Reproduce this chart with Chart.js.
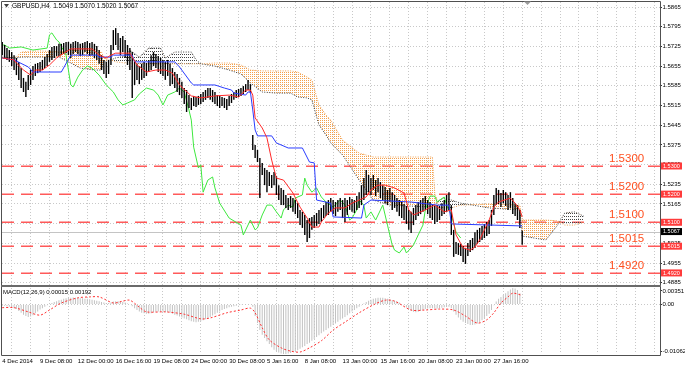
<!DOCTYPE html>
<html><head><meta charset="utf-8">
<script src="https://cdn.jsdelivr.net/npm/chart.js@4.4.1/dist/chart.umd.min.js"></script>
<style>
html,body{margin:0;padding:0;background:#fff;}
#wrap{position:relative;width:685px;height:368px;overflow:hidden;background:#fff;}
#c1{position:absolute;left:0;top:0;}
#c2{position:absolute;left:0;top:287px;}
</style></head><body>
<div id="wrap"><canvas id="c1" width="685" height="287"></canvas><canvas id="c2" width="685" height="81"></canvas></div>
<script>
// ---------------- DATA ----------------
const symbol = 'GBPUSD';
const timeframe = 'H4';
const lastOHLC = [1.5049, 1.5070, 1.5020, 1.5067];
const macdParams = '12,26,9';
const macdReadout = ['0.00015', '0.00192'];
const priceTicks = [1.5865,1.5795,1.5725,1.5655,1.5585,1.5515,1.5445,1.5375,1.5305,1.5235,1.5165,1.5095,1.5025,1.4955,1.4885];
const levels = [1.5300, 1.5200, 1.5100, 1.5015, 1.4920];
const dateLabels = ['4 Dec 2014','9 Dec 08:00','12 Dec 00:00','16 Dec 16:00','19 Dec 08:00','24 Dec 00:00','30 Dec 08:00','5 Jan 16:00','8 Jan 08:00','13 Jan 00:00','15 Jan 16:00','20 Jan 08:00','23 Jan 00:00','27 Jan 16:00'];
const macdTickValues = [0.00351, 0, -0.01062];
const macdTickLabels = ['0.00351', '0.00', '-0.01062'];

const barHigh = [
1.5741,1.5730,1.5719,1.5712,1.5705,1.5694,1.5684,1.5670,1.5648,1.5613,
1.5599,1.5623,1.5641,1.5655,1.5663,1.5666,1.5670,1.5677,1.5687,1.5698,
1.5712,1.5723,1.5726,1.5726,1.5734,1.5734,1.5737,1.5741,1.5741,1.5734,
1.5741,1.5744,1.5741,1.5734,1.5737,1.5741,1.5744,1.5737,1.5741,1.5734,
1.5726,1.5712,1.5694,1.5677,1.5670,1.5677,1.5730,1.5783,1.5790,1.5773,
1.5755,1.5762,1.5748,1.5730,1.5719,1.5705,1.5677,1.5663,1.5655,1.5663,
1.5670,1.5666,1.5677,1.5694,1.5705,1.5698,1.5691,1.5684,1.5677,1.5670,
1.5677,1.5663,1.5648,1.5634,1.5627,1.5613,1.5599,1.5577,1.5570,1.5552,
1.5542,1.5549,1.5545,1.5549,1.5556,1.5563,1.5570,1.5577,1.5577,1.5570,
1.5563,1.5552,1.5549,1.5545,1.5542,1.5538,1.5549,1.5556,1.5563,1.5570,
1.5574,1.5577,1.5584,1.5591,1.5606,1.5591,1.5410,1.5375,1.5357,1.5328,
1.5311,1.5293,1.5286,1.5279,1.5268,1.5279,1.5264,1.5232,1.5222,1.5215,
1.5197,1.5186,1.5193,1.5186,1.5179,1.5168,1.5144,1.5137,1.5126,1.5108,
1.5115,1.5119,1.5126,1.5133,1.5144,1.5151,1.5161,1.5172,1.5179,1.5186,
1.5179,1.5172,1.5179,1.5186,1.5179,1.5186,1.5179,1.5190,1.5183,1.5179,
1.5193,1.5207,1.5232,1.5257,1.5286,1.5268,1.5257,1.5268,1.5250,1.5257,
1.5243,1.5232,1.5225,1.5215,1.5222,1.5207,1.5197,1.5186,1.5179,1.5172,
1.5165,1.5158,1.5144,1.5137,1.5151,1.5161,1.5172,1.5179,1.5186,1.5193,
1.5179,1.5172,1.5165,1.5158,1.5161,1.5158,1.5168,1.5179,1.5197,1.5207,
1.5161,1.5073,1.5030,1.5026,1.5023,1.5016,1.5009,1.5026,1.5037,1.5044,
1.5065,1.5073,1.5080,1.5087,1.5094,1.5101,1.5108,1.5144,1.5197,1.5222,
1.5215,1.5204,1.5215,1.5207,1.5197,1.5207,1.5186,1.5168,1.5161,1.5144,
1.5070];
const barLow = [
1.5694,1.5684,1.5677,1.5670,1.5655,1.5641,1.5623,1.5606,1.5577,1.5563,
1.5545,1.5570,1.5588,1.5606,1.5620,1.5630,1.5634,1.5641,1.5648,1.5655,
1.5670,1.5677,1.5684,1.5691,1.5691,1.5694,1.5698,1.5701,1.5694,1.5684,
1.5698,1.5705,1.5698,1.5691,1.5694,1.5705,1.5698,1.5691,1.5694,1.5684,
1.5677,1.5663,1.5641,1.5627,1.5613,1.5627,1.5659,1.5712,1.5730,1.5712,
1.5694,1.5705,1.5684,1.5659,1.5641,1.5542,1.5588,1.5606,1.5591,1.5606,
1.5613,1.5620,1.5634,1.5641,1.5655,1.5648,1.5634,1.5627,1.5620,1.5606,
1.5620,1.5584,1.5591,1.5577,1.5563,1.5552,1.5542,1.5520,1.5492,1.5506,
1.5499,1.5513,1.5510,1.5517,1.5520,1.5527,1.5535,1.5542,1.5535,1.5527,
1.5520,1.5513,1.5506,1.5513,1.5506,1.5499,1.5513,1.5524,1.5535,1.5542,
1.5545,1.5549,1.5556,1.5563,1.5570,1.5559,1.5357,1.5328,1.5314,1.5186,
1.5268,1.5232,1.5207,1.5229,1.5222,1.5232,1.5197,1.5179,1.5161,1.5161,
1.5151,1.5144,1.5151,1.5137,1.5129,1.5115,1.5090,1.5080,1.5055,1.5030,
1.5044,1.5073,1.5080,1.5087,1.5094,1.5101,1.5115,1.5122,1.5126,1.5137,
1.5129,1.5122,1.5137,1.5144,1.5115,1.5101,1.5126,1.5144,1.5137,1.5133,
1.5144,1.5151,1.5161,1.5179,1.5197,1.5207,1.5197,1.5215,1.5193,1.5207,
1.5186,1.5179,1.5168,1.5161,1.5172,1.5144,1.5151,1.5137,1.5122,1.5115,
1.5108,1.5094,1.5073,1.5062,1.5090,1.5108,1.5122,1.5129,1.5137,1.5144,
1.5129,1.5115,1.5108,1.5094,1.5101,1.5108,1.5122,1.5129,1.5137,1.5144,
1.5055,1.4977,1.4987,1.4984,1.4980,1.4959,1.4952,1.4980,1.4994,1.5001,
1.5009,1.5023,1.5030,1.5037,1.5044,1.5051,1.5058,1.5087,1.5126,1.5161,
1.5165,1.5154,1.5168,1.5158,1.5144,1.5151,1.5129,1.5122,1.5108,1.5080,
1.5020];

// Ichimoku lines: [bar index, price]
const tenkan = [[0,1.5684],[5,1.5677],[6,1.5666],[9,1.5641],[12,1.5623],[14,1.5641],[17,1.5641],[20,1.5659],[23,1.5684],[26,1.5701],[29,1.5716],[38,1.5716],[41,1.5694],[44,1.5684],[46,1.5694],[48,1.5701],[54,1.5701],[57,1.5659],[61,1.5634],[65,1.5641],[69,1.5641],[72,1.5630],[75,1.5588],[80,1.5549],[84,1.5542],[90,1.5549],[96,1.5552],[100,1.5545],[103,1.5570],[105,1.5570],[106,1.5552],[107,1.5471],[110,1.5435],[112,1.5400],[114,1.5321],[116,1.5257],[119,1.5250],[123,1.5204],[126,1.5154],[129,1.5115],[131,1.5083],[134,1.5083],[135,1.5101],[138,1.5133],[141,1.5151],[145,1.5151],[148,1.5168],[151,1.5179],[154,1.5190],[156,1.5215],[159,1.5232],[162,1.5232],[166,1.5222],[170,1.5204],[172,1.5144],[174,1.5126],[179,1.5144],[183,1.5161],[187,1.5137],[190,1.5144],[192,1.5055],[195,1.5009],[198,1.5001],[200,1.5012],[202,1.5037],[204,1.5073],[206,1.5108],[208,1.5154],[210,1.5172],[215,1.5186],[217,1.5168],[219,1.5144],[220,1.5119]];
const kijun = [[0,1.5684],[5,1.5677],[11,1.5652],[13,1.5634],[25,1.5634],[29,1.5694],[40,1.5694],[41,1.5687],[46,1.5687],[47,1.5694],[55,1.5694],[56,1.5670],[73,1.5670],[75,1.5652],[80,1.5595],[81,1.5588],[90,1.5588],[94,1.5577],[97,1.5570],[98,1.5559],[103,1.5552],[104,1.5563],[105,1.5563],[106,1.5499],[107,1.5428],[108,1.5407],[114,1.5407],[116,1.5382],[121,1.5364],[127,1.5364],[130,1.5314],[132,1.5311],[133,1.5179],[139,1.5168],[140,1.5119],[152,1.5115],[153,1.5161],[156,1.5179],[173,1.5172],[184,1.5161],[189,1.5161],[190,1.5094],[220,1.5087]];
const chikou = [[0,1.5730],[1,1.5730],[3,1.5719],[8,1.5723],[13,1.5712],[19,1.5719],[20,1.5766],[21,1.5773],[23,1.5748],[24,1.5741],[27,1.5694],[29,1.5588],[30,1.5581],[32,1.5616],[34,1.5641],[36,1.5655],[38,1.5648],[41,1.5623],[44,1.5588],[47,1.5563],[49,1.5535],[51,1.5517],[53,1.5524],[56,1.5535],[58,1.5556],[61,1.5577],[64,1.5570],[66,1.5552],[68,1.5517],[70,1.5552],[73,1.5563],[75,1.5577],[77,1.5563],[79,1.5499],[80,1.5463],[81,1.5367],[83,1.5293],[84,1.5304],[85,1.5207],[87,1.5250],[89,1.5261],[90,1.5222],[92,1.5168],[96,1.5115],[101,1.5090],[102,1.5055],[105,1.5108],[107,1.5073],[108,1.5080],[110,1.5126],[112,1.5161],[114,1.5161],[116,1.5137],[118,1.5115],[119,1.5144],[121,1.5161],[123,1.5154],[124,1.5186],[127,1.5197],[128,1.5257],[129,1.5232],[131,1.5207],[133,1.5222],[135,1.5190],[137,1.5172],[140,1.5154],[143,1.5179],[145,1.5161],[147,1.5108],[148,1.5115],[150,1.5144],[151,1.5179],[153,1.5161],[154,1.5115],[156,1.5137],[158,1.5108],[161,1.5161],[162,1.5126],[163,1.5090],[165,1.5019],[166,1.5001],[168,1.4991],[170,1.5012],[171,1.4991],[173,1.5009],[174,1.5019],[176,1.5055],[178,1.5090],[179,1.5144],[181,1.5193],[183,1.5193],[184,1.5172],[187,1.5190],[188,1.5161],[190,1.5126],[192,1.5065],[194,1.5044]];
const senkouA = [[0,1.5684],[6,1.5687],[8,1.5705],[16,1.5709],[24,1.5705],[29,1.5712],[33,1.5719],[39,1.5716],[42,1.5705],[43,1.5684],[46,1.5677],[48,1.5670],[52,1.5666],[54,1.5666],[58,1.5663],[62,1.5663],[67,1.5663],[69,1.5663],[73,1.5663],[80,1.5663],[82,1.5663],[84,1.5663],[90,1.5666],[96,1.5666],[101,1.5659],[105,1.5641],[110,1.5638],[116,1.5638],[122,1.5638],[125,1.5634],[129,1.5616],[131,1.5606],[134,1.5517],[137,1.5481],[139,1.5463],[144,1.5392],[151,1.5346],[157,1.5332],[164,1.5332],[182,1.5332],[183,1.5204],[185,1.5154],[187,1.5151],[190,1.5151],[194,1.5161],[206,1.5165],[219,1.5161],[220,1.5108],[230,1.5108],[235,1.5105],[238,1.5090],[242,1.5090],[246,1.5101]];
const senkouB = [[0,1.5687],[6,1.5684],[8,1.5687],[16,1.5687],[24,1.5687],[29,1.5666],[33,1.5648],[39,1.5641],[42,1.5641],[43,1.5670],[46,1.5677],[48,1.5684],[52,1.5691],[54,1.5712],[58,1.5687],[62,1.5719],[67,1.5719],[69,1.5684],[73,1.5705],[80,1.5705],[82,1.5677],[84,1.5663],[90,1.5655],[96,1.5641],[101,1.5627],[105,1.5595],[110,1.5563],[116,1.5559],[122,1.5559],[125,1.5545],[129,1.5542],[131,1.5535],[134,1.5446],[137,1.5410],[139,1.5382],[144,1.5339],[151,1.5250],[157,1.5179],[164,1.5161],[182,1.5154],[183,1.5161],[185,1.5179],[187,1.5186],[190,1.5179],[194,1.5168],[206,1.5151],[219,1.5144],[220,1.5051],[230,1.5037],[235,1.5090],[238,1.5133],[242,1.5137],[246,1.5122]];

// MACD main (histogram), one value per bar
const macdMain = [
-0.0003,-0.0003,-0.0004,-0.0005,-0.0006,-0.0008,-0.0010,-0.0014,-0.0018,-0.0022,
-0.0025,-0.0027,-0.0026,-0.0023,-0.0019,-0.0015,-0.0011,-0.0008,-0.0005,-0.0002,
0.0001,0.0003,0.0005,0.0007,0.0009,0.0010,0.0012,0.0013,0.0014,0.0014,
0.0015,0.0014,0.0014,0.0013,0.0013,0.0012,0.0012,0.0011,0.0010,0.0009,
0.0008,0.0007,0.0005,0.0004,0.0003,0.0003,0.0004,0.0006,0.0007,0.0007,
0.0006,0.0005,0.0004,0.0002,0.0000,-0.0004,-0.0008,-0.0012,-0.0015,-0.0018,
-0.0019,-0.0020,-0.0020,-0.0019,-0.0017,-0.0016,-0.0015,-0.0015,-0.0016,-0.0017,
-0.0017,-0.0018,-0.0020,-0.0022,-0.0024,-0.0026,-0.0028,-0.0030,-0.0032,-0.0034,
-0.0036,-0.0037,-0.0038,-0.0037,-0.0036,-0.0034,-0.0032,-0.0030,-0.0027,-0.0024,
-0.0021,-0.0018,-0.0015,-0.0012,-0.0010,-0.0008,-0.0006,-0.0005,-0.0004,-0.0003,
-0.0002,-0.0001,0.0000,0.0001,0.0001,0.0000,-0.0005,-0.0025,-0.0040,-0.0055,
-0.0065,-0.0072,-0.0079,-0.0085,-0.0092,-0.0097,-0.0100,-0.0103,-0.0105,-0.0106,
-0.0106,-0.0105,-0.0104,-0.0102,-0.0100,-0.0098,-0.0095,-0.0092,-0.0089,-0.0085,
-0.0082,-0.0078,-0.0074,-0.0070,-0.0066,-0.0062,-0.0058,-0.0055,-0.0051,-0.0048,
-0.0044,-0.0041,-0.0037,-0.0033,-0.0030,-0.0027,-0.0023,-0.0019,-0.0015,-0.0012,
-0.0008,-0.0005,-0.0002,0.0002,0.0005,0.0008,0.0010,0.0012,0.0013,0.0014,
0.0014,0.0014,0.0013,0.0012,0.0011,0.0009,0.0008,0.0006,0.0004,0.0001,
-0.0002,-0.0006,-0.0010,-0.0014,-0.0016,-0.0017,-0.0016,-0.0014,-0.0012,-0.0010,
-0.0009,-0.0008,-0.0008,-0.0009,-0.0009,-0.0008,-0.0007,-0.0006,-0.0005,-0.0005,
-0.0008,-0.0015,-0.0022,-0.0028,-0.0033,-0.0037,-0.0040,-0.0042,-0.0044,-0.0044,
-0.0043,-0.0041,-0.0038,-0.0034,-0.0030,-0.0025,-0.0020,-0.0012,-0.0002,0.0006,
0.0012,0.0016,0.0020,0.0024,0.0028,0.0032,0.0035,0.0034,0.0031,0.0024,
0.00015];
// MACD signal: [bar index, value]
const macdSignal = [[0,-0.0007],[5,-0.0007],[11,-0.0016],[16,-0.0023],[20,-0.0012],[25,0.0003],[32,0.0014],[37,0.0016],[41,0.0016],[47,0.0003],[51,0.0007],[54,0.0009],[58,-0.0006],[61,-0.0016],[69,-0.0016],[77,-0.0021],[84,-0.0031],[88,-0.0029],[95,-0.0018],[101,-0.0012],[105,-0.0008],[107,-0.0018],[110,-0.0050],[113,-0.0076],[118,-0.0093],[122,-0.0100],[126,-0.0102],[130,-0.0093],[135,-0.0078],[140,-0.0055],[145,-0.0038],[151,-0.0018],[157,-0.0001],[162,0.0009],[166,0.0007],[173,-0.0012],[179,-0.0012],[185,-0.0010],[191,-0.0012],[196,-0.0025],[201,-0.0040],[205,-0.0033],[208,-0.0018],[211,0.0003],[214,0.0016],[216,0.0024],[220,0.00192]];

// ---------------- CHART ----------------
const FONT = '"Liberation Sans", Arial, sans-serif';
Chart.defaults.font.family = FONT;
const XMIN = -0.1, XMAX = 278.3;
const pts = arr => arr.map(([x, y]) => ({x, y}));
const gridTicks = s => { const t = []; for (let v = 0; v <= 272; v += 8) t.push({value: v}); s.ticks = t; };

const ctx1 = document.getElementById('c1').getContext('2d');
function dotPattern(w, h, dots, color) {
  const c = document.createElement('canvas'); c.width = w; c.height = h;
  const g = c.getContext('2d'); g.fillStyle = color;
  dots.forEach(([x, y]) => g.fillRect(x, y, 1, 1));
  return ctx1.createPattern(c, 'repeat');
}
const orangePat = dotPattern(2, 2, [[0,0]], '#f4a04c');
const grayPat = dotPattern(2, 3, [[0,0]], '#444444');

const mainOverlay = {
  id: 'mainOverlay',
  beforeDatasetsDraw(chart) {
    const {ctx, chartArea: a} = chart; const y = chart.scales.y;
    ctx.save();
    ctx.beginPath(); ctx.rect(a.left, a.top, a.right - a.left, a.bottom - a.top); ctx.clip();
    const yc = Math.round(y.getPixelForValue(lastOHLC[3])) + 0.5;
    ctx.strokeStyle = '#c4c4c4'; ctx.lineWidth = 1;
    ctx.beginPath(); ctx.moveTo(a.left, yc); ctx.lineTo(a.right, yc); ctx.stroke();
    ctx.strokeStyle = '#ff5a5a'; ctx.lineWidth = 1.6; ctx.setLineDash([12, 7]);
    levels.forEach(v => {
      const py = Math.round(y.getPixelForValue(v)) + 0.2;
      ctx.beginPath(); ctx.moveTo(a.left, py); ctx.lineTo(a.right, py); ctx.stroke();
    });
    ctx.restore();
  },
  afterDraw(chart) {
    const {ctx, chartArea: a} = chart; const y = chart.scales.y;
    ctx.save();
    ctx.strokeStyle = '#505050'; ctx.lineWidth = 1;
    ctx.beginPath(); ctx.moveTo(1.5, 285); ctx.lineTo(1.5, 1.5); ctx.lineTo(a.right + 0.5, 1.5); ctx.lineTo(a.right + 0.5, 287); ctx.stroke();
    ctx.fillStyle = '#6a6a6a'; ctx.fillRect(1, 285, a.right, 2);
    // big level labels
    ctx.font = '11.5px ' + FONT; ctx.fillStyle = '#ff5020'; ctx.textBaseline = 'middle'; ctx.textAlign = 'left';
    levels.forEach(v => ctx.fillText(v.toFixed(4), 609, y.getPixelForValue(v) - 7));
    // axis boxes
    ctx.font = '5.5px ' + FONT;
    levels.forEach(v => {
      const py = y.getPixelForValue(v);
      ctx.fillStyle = '#ff3b3b'; ctx.fillRect(661, py - 3.5, 21, 7);
      ctx.fillStyle = '#ffffff'; ctx.fillText(v.toFixed(4), 663, py + 0.3);
    });
    const pc = y.getPixelForValue(lastOHLC[3]);
    ctx.fillStyle = '#000000'; ctx.fillRect(661, pc - 3.5, 21, 7);
    ctx.fillStyle = '#ffffff'; ctx.fillText(lastOHLC[3].toFixed(4), 663, pc + 0.3);
    // title
    ctx.fillStyle = '#404040';
    ctx.beginPath(); ctx.moveTo(4, 4); ctx.lineTo(9, 4); ctx.lineTo(6.5, 7.5); ctx.closePath(); ctx.fill();
    ctx.fillStyle = '#000'; ctx.font = '6.5px ' + FONT;
    ctx.fillText(symbol + ',' + timeframe + '  ' + lastOHLC.map(v => v.toFixed(4)).join(' '), 12, 6.5);
    // shift marker
    ctx.fillStyle = '#9a9a9a';
    ctx.beginPath(); ctx.moveTo(524, 1.5); ctx.lineTo(531, 1.5); ctx.lineTo(527.5, 5); ctx.closePath(); ctx.fill();
    ctx.restore();
  }
};

new Chart(ctx1, {
  type: 'bar',
  data: {
    datasets: [
      {type: 'line', data: pts(senkouA), borderColor: '#f0a050', borderWidth: 1, borderDash: [1, 1.5], pointRadius: 0, tension: 0,
       fill: {target: 1, above: orangePat, below: grayPat}, order: 6},
      {type: 'line', data: pts(senkouB), borderColor: '#3a3a3a', borderWidth: 1, borderDash: [1, 1.5], pointRadius: 0, tension: 0, fill: false, order: 5},
      {type: 'line', data: pts(chikou), borderColor: '#3ee83e', borderWidth: 1, pointRadius: 0, tension: 0, fill: false, order: 4},
      {type: 'bar', data: barHigh.map((h, i) => ({x: i, y: [barLow[i], h]})), backgroundColor: '#000000', borderWidth: 0, barThickness: 1.4, inflateAmount: 0, grouped: false, order: 3},
      {type: 'line', data: pts(kijun), borderColor: '#2a3cff', borderWidth: 1, pointRadius: 0, tension: 0, fill: false, order: 2},
      {type: 'line', data: pts(tenkan), borderColor: '#ff2a2a', borderWidth: 1, pointRadius: 0, tension: 0, fill: false, order: 1}
    ]
  },
  options: {
    responsive: false, animation: false, events: [],
    layout: {padding: {left: 2, top: 2, bottom: 2, right: 0}},
    plugins: {legend: {display: false}, tooltip: {enabled: false}},
    scales: {
      x: {type: 'linear', min: XMIN, max: XMAX, offset: false,
          afterBuildTicks: gridTicks,
          afterFit: s => { s.height = 0; s.paddingLeft = 0; s.paddingRight = 0; },
          grid: {color: '#c8c8c8', lineWidth: 1, drawTicks: false},
          border: {display: false, dash: [1, 2]},
          ticks: {display: false}},
      y: {position: 'right', min: 1.48771, max: 1.58828,
          afterBuildTicks: s => { s.ticks = priceTicks.map(v => ({value: v})); },
          afterFit: s => { s.width = 25; s.paddingTop = 0; s.paddingBottom = 0; },
          grid: {color: '#c8c8c8', lineWidth: 1, drawTicks: true, tickLength: 2, tickColor: '#333', tickBorderDash: []},
          border: {display: false, dash: [1, 2]},
          ticks: {autoSkip: false, padding: 0.5, color: '#000', font: {size: 6, lineHeight: 1}, callback: v => v.toFixed(4)}}
    }
  },
  plugins: [mainOverlay]
});

const macdOverlay = {
  id: 'macdOverlay',
  afterDraw(chart) {
    const {ctx, chartArea: a} = chart;
    ctx.save();
    ctx.strokeStyle = '#505050'; ctx.lineWidth = 1;
    ctx.beginPath(); ctx.moveTo(1.5, 0); ctx.lineTo(1.5, a.bottom + 1.5); ctx.lineTo(a.right + 0.5, a.bottom + 1.5); ctx.lineTo(a.right + 0.5, 0); ctx.stroke();
    ctx.font = '6px ' + FONT; ctx.fillStyle = '#000'; ctx.textBaseline = 'middle'; ctx.textAlign = 'left';
    ctx.fillText('MACD(' + macdParams + ') ' + macdReadout.join(' '), 3, 5.5);
    ctx.restore();
  }
};

const macdSpan = macdTickValues[0] - macdTickValues[2];
new Chart(document.getElementById('c2').getContext('2d'), {
  type: 'bar',
  data: {
    datasets: [
      {type: 'bar', data: macdMain.map((v, i) => ({x: i, y: v})), backgroundColor: '#c2c2c2', borderWidth: 0, barThickness: 1, inflateAmount: 0, grouped: false, order: 2},
      {type: 'line', data: pts(macdSignal), borderColor: '#ff3030', borderWidth: 1, borderDash: [2, 2], pointRadius: 0, tension: 0.3, fill: false, order: 1}
    ]
  },
  options: {
    responsive: false, animation: false, events: [],
    layout: {padding: {left: 2, top: 1, bottom: 0, right: 0}},
    plugins: {legend: {display: false}, tooltip: {enabled: false}},
    scales: {
      x: {type: 'linear', min: XMIN, max: XMAX, offset: false,
          afterBuildTicks: gridTicks,
          afterFit: s => { s.height = 14; s.paddingLeft = 0; s.paddingRight = 0; },
          grid: {color: '#c8c8c8', lineWidth: 1, drawTicks: false},
          border: {display: false, dash: [1, 2]},
          ticks: {autoSkip: false, maxRotation: 0, align: 'start', padding: 4, color: '#000', font: {size: 6, lineHeight: 1},
                  callback: v => { const k = v / 16; return (Number.isInteger(k) && k < dateLabels.length) ? dateLabels[k] : ''; }}},
      y: {position: 'right', min: macdTickValues[2], max: macdTickValues[0],
          afterBuildTicks: s => { const pad = macdSpan * 3 / 66; s.ticks = [{value: macdTickValues[0] - pad}, {value: 0}, {value: macdTickValues[2] + pad}]; },
          afterFit: s => { s.width = 25; s.paddingTop = 0; s.paddingBottom = 0; },
          grid: {color: c => (c.tick && c.tick.value === 0) ? '#c8c8c8' : 'rgba(0,0,0,0)', lineWidth: 1, drawTicks: true, tickLength: 2, tickColor: '#333', tickBorderDash: []},
          border: {display: false, dash: [1, 2]},
          ticks: {autoSkip: false, padding: 0.5, color: '#000', font: {size: 6, lineHeight: 1}, callback: (v, i) => macdTickLabels[i]}}
    }
  },
  plugins: [macdOverlay]
});
</script>
</body></html>
